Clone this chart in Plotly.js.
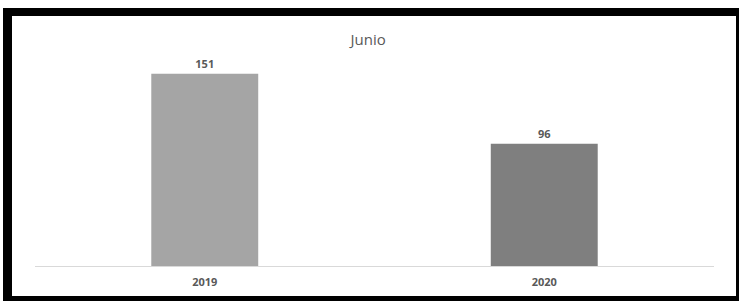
<!DOCTYPE html>
<html>
<head>
<meta charset="utf-8">
<script src="https://cdn.plot.ly/plotly-3.0.1.min.js"></script>
<style>
  html, body { margin: 0; padding: 0; background: #ffffff; width: 739px; height: 302px; overflow: hidden; }
  #frame { position: absolute; left: 3px; top: 8px; width: 736px; height: 293px; background: #000000; }
  #chart { position: absolute; left: 9px; top: 8px; width: 724px; height: 280px; background: #ffffff; }
</style>
</head>
<body>
<div id="frame"><div id="chart"></div></div>
<script>
const chartTitle = "Junio";
const categories = ["2019", "2020"];
const values = [151, 96];
const barColors = ["#a5a5a5", "#7f7f7f"];

const trace = {
  type: "bar",
  x: categories,
  y: values,
  marker: { color: barColors },
  text: values.map(String),
  textposition: "outside",
  cliponaxis: false,
  textfont: { family: "Open Sans, Arial, sans-serif", size: 11, color: "#595959", weight: "bold" },
  hoverinfo: "none"
};

const layout = {
  width: 724,
  height: 280,
  margin: { l: 22.5, r: 21.5, t: 40, b: 30 },
  paper_bgcolor: "#ffffff",
  plot_bgcolor: "#ffffff",
  showlegend: false,
  bargap: 0.685,
  title: {
    text: chartTitle,
    xref: "container",
    x: 0.492, xanchor: "center",
    yref: "container",
    y: 1 - 24 / 280, yanchor: "middle",
    font: { family: "Open Sans, Arial, sans-serif", size: 15, color: "#595959" }
  },
  xaxis: {
    type: "category",
    showline: true,
    linecolor: "#d9d9d9",
    linewidth: 1,
    showgrid: false,
    zeroline: false,
    ticks: "",
    ticklabelstandoff: 6,
    tickfont: { family: "Open Sans, Arial, sans-serif", size: 11, color: "#595959", weight: "bold" }
  },
  yaxis: {
    range: [0, 165],
    visible: false,
    showgrid: false,
    zeroline: false
  }
};

Plotly.newPlot("chart", [trace], layout, { staticPlot: true, displayModeBar: false });
</script>
</body>
</html>
